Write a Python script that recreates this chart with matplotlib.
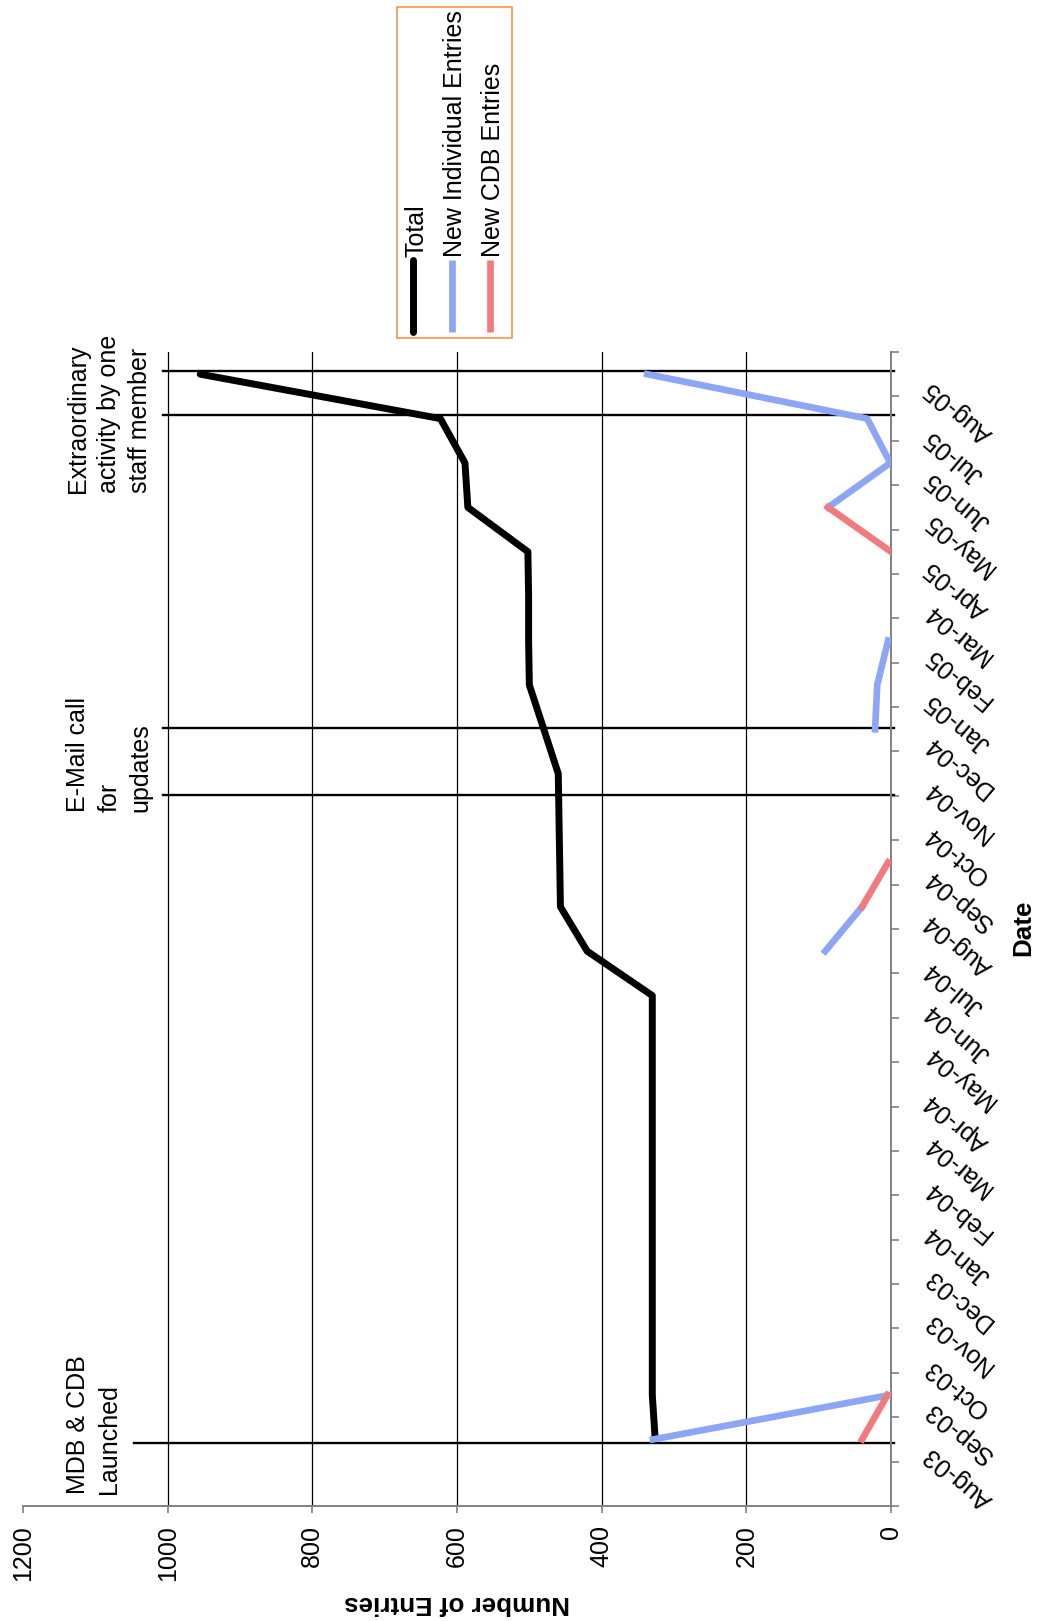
import numpy as np
import matplotlib.pyplot as plt
from matplotlib.lines import Line2D
from matplotlib.patches import Rectangle
from matplotlib.transforms import ScaledTranslation

plt.rcParams['font.family'] = ['Liberation Sans', 'DejaVu Sans']

# monthly categories (the last one has no label in the original)
dates = ['Aug-03', 'Sep-03', 'Oct-03', 'Nov-03', 'Dec-03', 'Jan-04', 'Feb-04',
         'Mar-04', 'Apr-04', 'May-04', 'Jun-04', 'Jul-04', 'Aug-04', 'Sep-04',
         'Oct-04', 'Nov-04', 'Dec-04', 'Jan-05', 'Feb-05', 'Mar-04', 'Apr-05',
         'May-05', 'Jun-05', 'Jul-05', 'Aug-05', '']
nan = np.nan
total = [nan, 326, 330, 330, 330, 330, 330, 330, 330, 330, 330, 330, 420, 457,
         458, 459, 460, 480, 500, 501, 501, 502, 585, 589, 623, 955]
new_individual = [nan, 329, 2, nan, nan, nan, nan, nan, nan, nan, nan, nan, 91, 40,
                  nan, nan, nan, 22, 19, 4, nan, nan, 87, 1, 33, 337]
new_cdb = [nan, 40, 5, nan, nan, nan, nan, nan, nan, nan, nan, nan, nan, 40,
           4, nan, nan, nan, nan, nan, nan, 0, 87, nan, nan, nan]
value_ticks = [0, 200, 400, 600, 800, 1000, 1200]

# event markers: (text, positions on the date axis, left end of the line, text start)
events = [("MDB & CDB\nLaunched", [0.92], 1046, -0.23),
          ("E-Mail call\nfor\nupdates", [15.52, 17.03], 1006, 15.14),
          ("Extraordinary\nactivity by one\nstaff member", [24.08, 25.07], 1006, 22.33)]

W, H = 1046, 1621
FS = 18
fig = plt.figure(figsize=(W / 100, H / 100), dpi=100)

def fx(px):
    return px / W

def fy(py):
    return 1 - py / H

ax = fig.add_axes([fx(23), fy(1506), 868 / W, 1154 / H])
pos = np.arange(len(dates))
ax.set_xlim(1200, 0)
ax.set_ylim(-0.5, len(dates) - 0.5)

for v in value_ticks[1:-1]:
    ax.axvline(v, color='black', lw=0.9, zorder=1)

blue = '#8ca6f5'
red = '#f27a7e'
ax.plot(total, pos, color='black', lw=5, solid_capstyle='round', zorder=3)
ax.plot(new_individual, pos, color=blue, lw=4.8, zorder=4)
ax.plot(new_cdb, pos, color=red, lw=4.8, zorder=5)

for label, ys, xleft, ytext in events:
    for y in ys:
        ax.plot([xleft, -4], [y, y], color='black', lw=1.7, clip_on=False, zorder=2)
    ax.text(1140, ytext, label, rotation=90, ha='left', va='bottom',
            multialignment='left', fontsize=FS, linespacing=1.36, clip_on=False)

for s in ['top', 'left']:
    ax.spines[s].set_visible(False)
for s in ['bottom', 'right']:
    ax.spines[s].set_color('#808080')
    ax.spines[s].set_linewidth(1.4)

ax.set_xticks(value_ticks)
ax.set_xticklabels([str(v) for v in value_ticks], rotation=90, fontsize=FS)
ax.tick_params(axis='x', direction='out', length=5, width=1.2, color='#808080', pad=9)

ax.yaxis.tick_right()
ax.set_yticks(np.arange(-0.5, len(dates)))
ax.set_yticklabels([])
ax.set_yticks(pos, minor=True)
ax.set_yticklabels(dates, minor=True, rotation=140, fontsize=FS, ha='left', va='center')
ax.tick_params(axis='y', which='major', direction='out', length=6, width=1.2, color='#808080')
ax.tick_params(axis='y', which='minor', length=0, pad=21)
shift = ScaledTranslation(0, 5 / 72, fig.dpi_scale_trans)
for lab in ax.get_yticklabels(minor=True):
    lab.set_transform(lab.get_transform() + shift)

fig.text(fx(457), fy(1603), 'Number of Entries', rotation=180, ha='center', va='center',
         fontsize=FS + 0.7, fontweight='bold')
fig.text(fx(1023), fy(928), 'Date', rotation=90, ha='center', va='center',
         fontsize=FS + 0.7, fontweight='bold')

# legend, turned like the rest of the chart
fig.patches.append(Rectangle((fx(397), fy(338)), 115 / W, 331 / H, transform=fig.transFigure,
                             fill=False, edgecolor='#f58a3c', lw=1.1))
legend_items = [('Total', 'black', 5), ('New Individual Entries', blue, 4.8),
                ('New CDB Entries', red, 4.8)]
for i, (name, col, lw) in enumerate(legend_items):
    hx = 413 + 38.5 * i
    fig.lines.append(Line2D([fx(hx), fx(hx)], [fy(260), fy(332)], transform=fig.transFigure,
                            color=col, lw=lw, solid_capstyle='round' if i == 0 else 'butt'))
    fig.text(fx(hx + 3), fy(257), name, rotation=90, ha='center', va='bottom', fontsize=FS)

fig.savefig('out.png', dpi=100)
